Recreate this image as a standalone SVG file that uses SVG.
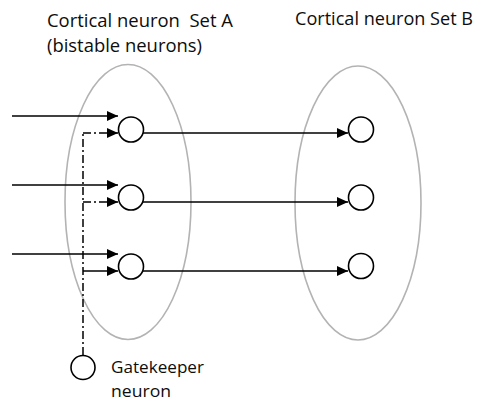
<svg xmlns="http://www.w3.org/2000/svg" width="478" height="403" viewBox="0 0 478 403">
<style>
.set{fill:none;stroke:#b3b3b3;stroke-width:1.6}
.neu{fill:#fff;stroke:#000;stroke-width:1.6}
.ln{fill:none;stroke:#000;stroke-width:1.5}
.dd{fill:none;stroke:#000;stroke-width:1.5;stroke-dasharray:8 3 2 3}
.t{font-family:"Open Sans","Noto Sans",sans-serif;fill:#0d0d0d}
</style>
<defs>
<marker id="ah" markerUnits="userSpaceOnUse" markerWidth="12" markerHeight="11" refX="11" refY="5" orient="auto">
<path d="M0,0 L11,5 L0,10 z" fill="#000"/>
</marker>
</defs>
<rect width="478" height="403" fill="#fff"/>
<g id="setA"><ellipse class="set" cx="128" cy="202" rx="63" ry="137.5"/></g>
<g id="setB"><ellipse class="set" cx="358" cy="203" rx="63" ry="137"/></g>
<g id="labels">
<text class="t" x="47" y="27" font-size="18" textLength="186" lengthAdjust="spacingAndGlyphs" xml:space="preserve">Cortical neuron  Set A</text>
<text class="t" x="47" y="52" font-size="18" textLength="155" lengthAdjust="spacingAndGlyphs">(bistable neurons)</text>
<text class="t" x="295" y="25" font-size="18" textLength="178" lengthAdjust="spacingAndGlyphs">Cortical neuron Set B</text>
</g>
<g id="connectors">
<line class="ln" x1="12" y1="116" x2="118" y2="116" marker-end="url(#ah)"/>
<line class="ln" x1="12" y1="185" x2="118" y2="185" marker-end="url(#ah)"/>
<line class="ln" x1="12" y1="254" x2="118" y2="254" marker-end="url(#ah)"/>
<line class="dd" x1="83" y1="355" x2="83" y2="133"/>
<path class="dd" d="M83,133 H118" marker-end="url(#ah)"/>
<path class="dd" d="M83,202 H118" marker-end="url(#ah)"/>
<path class="ln" d="M83,271 H118" marker-end="url(#ah)"/>
<line class="ln" x1="143" y1="133" x2="348" y2="133" marker-end="url(#ah)"/>
<line class="ln" x1="143" y1="202" x2="348" y2="202" marker-end="url(#ah)"/>
<line class="ln" x1="143" y1="271" x2="348" y2="271" marker-end="url(#ah)"/>
</g>
<g id="a1"><circle class="neu" cx="131" cy="129.5" r="12.5"/></g>
<g id="a2"><circle class="neu" cx="131" cy="197.5" r="12.5"/></g>
<g id="a3"><circle class="neu" cx="131" cy="266.5" r="12.5"/></g>
<g id="b1"><circle class="neu" cx="361" cy="129.5" r="12.5"/></g>
<g id="b2"><circle class="neu" cx="361" cy="197.5" r="12.5"/></g>
<g id="b3"><circle class="neu" cx="361" cy="266" r="12.5"/></g>
<g id="gatekeeper">
<circle class="neu" cx="83" cy="367.5" r="12"/>
<text class="t" x="111" y="373" font-size="17" textLength="93" lengthAdjust="spacingAndGlyphs">Gatekeeper</text>
<text class="t" x="111" y="397" font-size="17" textLength="60" lengthAdjust="spacingAndGlyphs">neuron</text>
</g>
</svg>
